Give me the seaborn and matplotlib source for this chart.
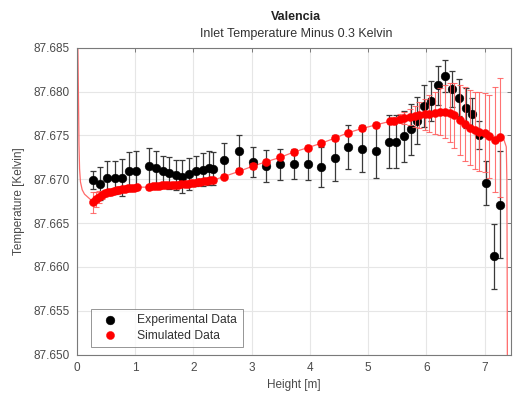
import numpy as np
import pandas as pd
import matplotlib
matplotlib.use("Agg")
import matplotlib.pyplot as plt
import seaborn as sns

# Measured temperature profile along the height (mean and spread)
exp_h = [0.28, 0.40, 0.52, 0.65, 0.77, 0.89, 1.02,
         1.24, 1.36, 1.48, 1.58, 1.70, 1.81, 1.92, 2.04, 2.16, 2.26, 2.34,
         2.52, 2.78,
         3.02, 3.25, 3.49, 3.72, 3.96, 4.19, 4.43, 4.65, 4.90, 5.13,
         5.36, 5.48, 5.61, 5.73, 5.84, 5.96, 6.08, 6.20, 6.32, 6.43, 6.55,
         6.67, 6.79, 6.91, 7.03, 7.16, 7.27]
exp_T = [87.6699, 87.6695, 87.6702, 87.6702, 87.6702, 87.6709, 87.6710,
         87.6715, 87.6713, 87.6709, 87.6707, 87.6705, 87.6703, 87.6706, 87.6709,
         87.6711, 87.6713, 87.6712,
         87.6722, 87.6732,
         87.6720, 87.6715, 87.6717, 87.6717, 87.6717, 87.6714, 87.6724, 87.6737,
         87.6735, 87.6732,
         87.6743, 87.6743, 87.6749, 87.6757, 87.6767, 87.6784, 87.6789, 87.6807,
         87.6818, 87.6803, 87.6793, 87.6781, 87.6775, 87.6751, 87.6696, 87.6612,
         87.6671]
exp_err = [0.0010, 0.0019, 0.0019, 0.0019, 0.0021, 0.0022, 0.0022,
           0.0021, 0.0019, 0.0017, 0.0018, 0.0017, 0.0019, 0.0018, 0.0017,
           0.0019, 0.0019, 0.0019,
           0.0019, 0.0019,
           0.0017, 0.0018, 0.0018, 0.0017, 0.0018, 0.0023, 0.0026, 0.0025,
           0.0027, 0.0031,
           0.0030, 0.0030, 0.0029, 0.0029, 0.0027, 0.0024, 0.0023, 0.0022,
           0.0018, 0.0020, 0.0021, 0.0023, 0.0018, 0.0016, 0.0025, 0.0037,
           0.0061]

# Simulated temperature at the sensor locations
sim_h = [0.28, 0.33, 0.38, 0.43, 0.48, 0.53, 0.58, 0.63, 0.68, 0.73, 0.78,
         0.83, 0.88, 0.93, 0.98, 1.03,
         1.24, 1.30, 1.35, 1.41, 1.46, 1.52, 1.57, 1.63, 1.68, 1.74, 1.79,
         1.85, 1.90, 1.96, 2.01, 2.07, 2.12, 2.18, 2.23, 2.29, 2.34,
         2.52, 2.78, 3.02, 3.25, 3.49, 3.72, 3.96, 4.19, 4.43, 4.65, 4.90, 5.13,
         5.37, 5.45, 5.54, 5.62, 5.71, 5.80, 5.88, 5.97, 6.05, 6.14, 6.23,
         6.31, 6.40, 6.48, 6.57, 6.66, 6.74, 6.83, 6.91, 7.00, 7.08, 7.17, 7.27]
sim_T = [87.6674, 87.6677, 87.6680, 87.6682, 87.6684, 87.6685, 87.6686,
         87.6687, 87.6688, 87.6688, 87.6689, 87.6689, 87.6690, 87.6690,
         87.6690, 87.6691,
         87.6691, 87.6692, 87.6692, 87.6692, 87.6693, 87.6693, 87.6693,
         87.6694, 87.6694, 87.6694, 87.6695, 87.6695, 87.6695, 87.6696,
         87.6696, 87.6697, 87.6697, 87.6698, 87.6698, 87.6699, 87.6699,
         87.6703, 87.6709, 87.6715, 87.6720, 87.6725, 87.6731, 87.6736,
         87.6741, 87.6747, 87.6753, 87.6758, 87.6762,
         87.6766, 87.6767, 87.6769, 87.6770, 87.6771, 87.6772, 87.6773,
         87.6774, 87.6775, 87.6776, 87.6777, 87.6777, 87.6776, 87.6773,
         87.6768, 87.6763, 87.6759, 87.6756, 87.6754, 87.6753, 87.6749,
         87.6745, 87.6748]
sim_err = [0.0012, 0.0009, 0.0007, 0.0005, 0.0004, 0.0004, 0.0003, 0.0003,
           0.0003, 0.0003, 0.0003, 0.0003, 0.0003, 0.0003, 0.0003, 0.0003,
           0.0003, 0.0003, 0.0003, 0.0003, 0.0003, 0.0003, 0.0003, 0.0003,
           0.0003, 0.0003, 0.0003, 0.0003, 0.0003, 0.0003, 0.0003, 0.0003,
           0.0003, 0.0003, 0.0003, 0.0003, 0.0003,
           0.0003, 0.0003, 0.0003, 0.0003, 0.0003, 0.0003, 0.0003, 0.0003,
           0.0003, 0.0003, 0.0003, 0.0003,
           0.0003, 0.0004, 0.0005, 0.0007, 0.0009, 0.0012, 0.0015, 0.0018,
           0.0021, 0.0024, 0.0027, 0.0030, 0.0034, 0.0037, 0.0040, 0.0042,
           0.0043, 0.0044, 0.0045, 0.0045, 0.0047, 0.0060, 0.0068]

# Continuous simulated profile near the inlet and outlet boundaries
inlet_h = [0.015, 0.025, 0.035, 0.045, 0.06, 0.09, 0.13, 0.18, 0.23]
inlet_T = [87.6855, 87.6800, 87.6740, 87.6712, 87.6697, 87.6688, 87.6683,
           87.6680, 87.6677]
outlet_h = [7.33, 7.37, 7.38, 7.385, 7.39]
outlet_T = [87.6745, 87.6737, 87.6700, 87.6600, 87.6450]

x_ticks = [0, 1, 2, 3, 4, 5, 6, 7]
y_ticks = [87.650, 87.655, 87.660, 87.665, 87.670, 87.675, 87.680, 87.685]

sns.set_theme(style="white")
plt.rcParams["font.family"] = ["Liberation Sans", "DejaVu Sans"]

exp_df = pd.DataFrame({"h": exp_h, "T": exp_T, "err": exp_err})
sim_df = pd.DataFrame({"h": sim_h, "T": sim_T, "err": sim_err})
profile_df = pd.DataFrame({"h": inlet_h + sim_h + outlet_h,
                           "T": inlet_T + sim_T + outlet_T})

fig = plt.figure(figsize=(5.13, 3.98), dpi=100)
ax = fig.add_axes([0.150, 0.109, 0.846, 0.771])

GRID = "#e6e6e6"
AXC = "#7a7a7a"
TXT = "#4a4a4a"

ax.set_axisbelow(True)
ax.grid(True, color=GRID, linewidth=0.8)

sns.lineplot(data=profile_df, x="h", y="T", sort=False, ax=ax,
             color="#ff6a6a", linewidth=0.9, estimator=None, legend=False)

ax.errorbar(exp_df["h"], exp_df["T"], yerr=exp_df["err"], fmt="none",
            ecolor="#3a3a3a", elinewidth=0.9, capsize=2.2, capthick=0.9,
            zorder=3)
sns.scatterplot(data=exp_df, x="h", y="T", ax=ax, color="black", s=40,
                edgecolor="black", linewidth=0.3, zorder=4,
                label="Experimental Data")

ax.errorbar(sim_df["h"], sim_df["T"], yerr=sim_df["err"], fmt="none",
            ecolor="#ff5a5a", elinewidth=0.8, capsize=2.2, capthick=0.8,
            alpha=0.85, zorder=5)
sns.scatterplot(data=sim_df, x="h", y="T", ax=ax, color="#ff0000", s=34,
                edgecolor="#ff0000", linewidth=0.3, zorder=6,
                label="Simulated Data")

ax.set_xlim(0, 7.45)
ax.set_ylim(87.650, 87.685)
ax.set_xticks(x_ticks)
ax.set_yticks(y_ticks)
ax.set_xticklabels([str(v) for v in x_ticks])
ax.set_yticklabels([f"{v:.3f}" for v in y_ticks])

ax.tick_params(axis="both", direction="in", length=3, width=0.7,
               colors=AXC, labelcolor=TXT, labelsize=8.5,
               top=True, right=True, pad=5)
for sp in ax.spines.values():
    sp.set_visible(True)
    sp.set_color(AXC)
    sp.set_linewidth(0.8)

ax.set_xlabel("Height [m]", fontsize=8.5, color=TXT, labelpad=4)
ax.set_ylabel("Temperature [Kelvin]", fontsize=8.5, color=TXT, labelpad=6)

fig.text(0.577, 0.958, "Valencia", ha="center", va="center",
         fontsize=9, fontweight="bold", color="#222222")
fig.text(0.577, 0.914, "Inlet Temperature Minus 0.3 Kelvin", ha="center",
         va="center", fontsize=9, color="#333333")

leg = ax.legend(loc="lower left", bbox_to_anchor=(0.018, 0.005),
                fontsize=8.7, frameon=True, fancybox=False, edgecolor=AXC,
                handletextpad=1.2, borderpad=0.45, labelspacing=0.3,
                handlelength=2.2)
leg.get_frame().set_linewidth(0.7)
for t in leg.get_texts():
    t.set_color("#333333")

fig.savefig("out.png", dpi=100)
